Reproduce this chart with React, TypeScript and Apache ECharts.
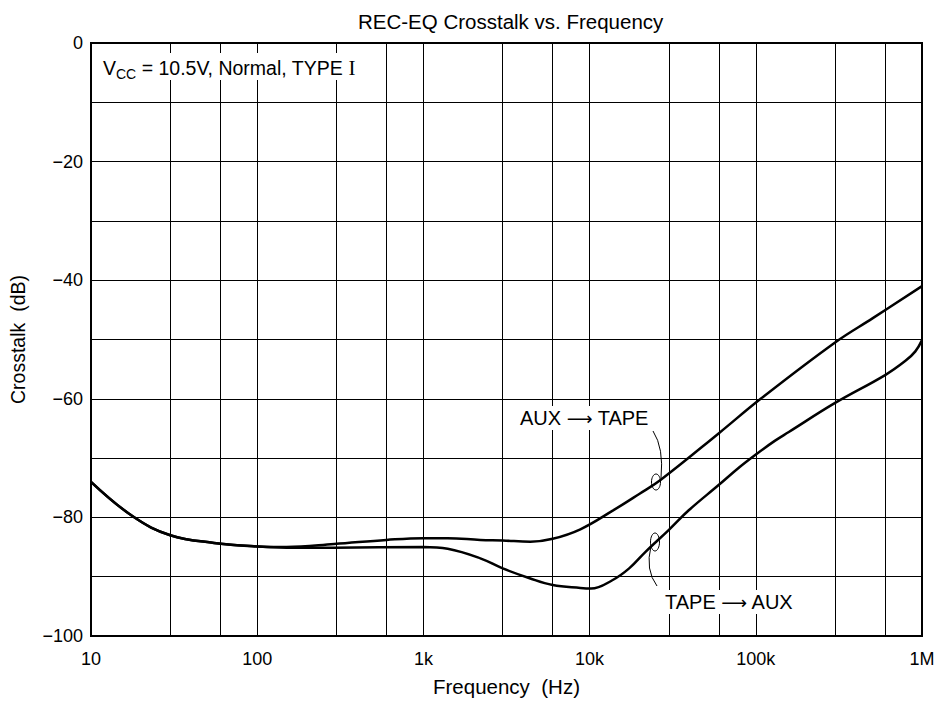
import React, { useEffect, useRef } from "react";
import * as echarts from "echarts";

const freqAux = [10, 18, 30, 55, 100, 150, 290, 600, 1000, 1400, 2200, 3000, 4400, 6000, 8800, 13700, 20000, 26700, 60000, 107000, 300000, 506000, 1000000];
const aux = [-74, -79.9, -83, -84.3, -84.9, -85.0, -84.5, -83.8, -83.5, -83.5, -83.8, -83.9, -84.1, -83.6, -82.0, -78.9, -76.0, -73.7, -65.8, -60.0, -50.5, -46.4, -41];

const freqTape = [10, 18, 30, 55, 100, 150, 290, 1000, 1400, 2200, 3000, 4400, 6000, 8800, 10200, 13700, 17300, 21700, 30000, 39500, 60000, 80000, 100000, 130000, 158000, 300000, 600000, 795000, 912000, 1000000];
const tape = [-74, -79.9, -83, -84.3, -84.9, -85.1, -85.1, -85.0, -85.3, -86.9, -88.6, -90.3, -91.4, -91.9, -92.0, -90.6, -88.6, -85.8, -82.1, -78.8, -74.5, -71.5, -69.4, -67.1, -65.6, -60.7, -56.0, -53.6, -52.0, -50.1];

const gridFreqs = [30, 60, 100, 300, 600, 1000, 3000, 6000, 10000, 30000, 60000, 100000, 300000, 600000];
const xTickLabels: Record<string, string> = { "10": "10", "100": "100", "1000": "1k", "10000": "10k", "100000": "100k", "1000000": "1M" };

const FONT = "'Liberation Sans', Arial, Helvetica, sans-serif";
const ARROWFONT = "'DejaVu Sans', sans-serif";

export default function App() {
  const ref = useRef<HTMLDivElement>(null);
  useEffect(() => {
    const chart = echarts.init(ref.current!, null, { renderer: "svg" });
    const annRich = {
      t: { fontFamily: FONT, fontSize: 20, color: "#000", lineHeight: 24 },
      a: { fontFamily: ARROWFONT, fontSize: 18, color: "#000", lineHeight: 24 },
    };
    chart.setOption({
      animation: false,
      backgroundColor: "#fff",
      title: {
        text: "REC-EQ Crosstalk vs. Frequency",
        left: 353,
        top: 6,
        textStyle: { fontFamily: FONT, fontSize: 20.5, fontWeight: "normal", color: "#000" },
      },
      grid: { left: 90, right: 23, top: 43, bottom: 67, show: true, borderColor: "#000", borderWidth: 2, backgroundColor: "transparent" },
      xAxis: {
        type: "log",
        logBase: 10,
        min: 10,
        max: 1000000,
        name: "Frequency  (Hz)",
        nameLocation: "middle",
        nameGap: 40,
        nameTextStyle: { fontFamily: FONT, fontSize: 20.5, color: "#000" },
        axisLine: { show: false },
        axisTick: { show: false },
        splitLine: { show: false },
        minorSplitLine: { show: false },
        axisLabel: {
          margin: 14,
          fontFamily: FONT,
          fontSize: 18,
          color: "#000",
          formatter: (v: number) => xTickLabels[String(Math.round(v))] ?? "",
        },
      },
      yAxis: {
        type: "value",
        min: -100,
        max: 0,
        interval: 10,
        name: "Crosstalk  (dB)",
        nameLocation: "middle",
        nameGap: 63,
        nameTextStyle: { fontFamily: FONT, fontSize: 19.5, color: "#000" },
        axisLine: { show: false },
        axisTick: { show: false },
        splitLine: { show: true, lineStyle: { color: "#000", width: 1 } },
        axisLabel: {
          margin: 8,
          fontFamily: FONT,
          fontSize: 18,
          color: "#000",
          formatter: (v: number) => (v % 20 === 0 ? (v < 0 ? "\u2212" + Math.abs(v) : "0") : ""),
        },
      },
      series: [
        {
          name: "AUX → TAPE",
          type: "line",
          data: freqAux.map((f, i) => [f, aux[i]]),
          smooth: 0.4,
          showSymbol: false,
          lineStyle: { color: "#000", width: 2.5 },
          markLine: {
            silent: true,
            symbol: "none",
            label: { show: false },
            lineStyle: { color: "#000", width: 1, type: "solid" },
            data: gridFreqs.map((f) => ({ xAxis: f })),
            z: 1,
          },
          z: 3,
        },
        {
          name: "TAPE → AUX",
          type: "line",
          data: freqTape.map((f, i) => [f, tape[i]]),
          smooth: 0.4,
          showSymbol: false,
          lineStyle: { color: "#000", width: 2.5 },
          z: 3,
        },
      ],
      graphic: [
        { type: "rect", z: 50, shape: { x: 95, y: 53, width: 270, height: 27 }, style: { fill: "#fff" } },
        {
          type: "text",
          z: 51,
          x: 103,
          y: 68,
          style: {
            text: "{v|V}{s|CC}{v| = 10.5V, Normal, TYPE }{r|I}",
            verticalAlign: "middle",
            rich: {
              v: { fontFamily: FONT, fontSize: 19.5, color: "#000", lineHeight: 26, verticalAlign: "middle" },
              s: { fontFamily: FONT, fontSize: 14, color: "#000", lineHeight: 26, verticalAlign: "bottom" },
              r: { fontFamily: "'Liberation Serif', 'DejaVu Serif', serif", fontSize: 21, color: "#000", lineHeight: 26, verticalAlign: "middle" },
            },
          },
        },
        {
          type: "text",
          z: 51,
          x: 517,
          y: 418,
          style: {
            text: "{t|AUX }{a|\u27F6}{t| TAPE}",
            verticalAlign: "middle",
            rich: annRich,
            backgroundColor: "#fff",
            padding: [0, 3, 0, 3],
          },
        },
        {
          type: "text",
          z: 51,
          x: 662,
          y: 602,
          style: {
            text: "{t|TAPE }{a|\u27F6}{t| AUX}",
            verticalAlign: "middle",
            rich: annRich,
            backgroundColor: "#fff",
            padding: [0, 3, 0, 3],
          },
        },
        {
          type: "bezierCurve",
          z: 52,
          shape: { x1: 653, y1: 431, x2: 661, y2: 478, cpx1: 664, cpy1: 448 },
          style: { stroke: "#000", lineWidth: 1, fill: "none" },
        },
        {
          type: "ellipse",
          z: 52,
          shape: { cx: 656, cy: 482, rx: 4.5, ry: 8 },
          style: { stroke: "#000", lineWidth: 1, fill: "none" },
        },
        {
          type: "ellipse",
          z: 52,
          shape: { cx: 655, cy: 542, rx: 4.5, ry: 9 },
          style: { stroke: "#000", lineWidth: 1, fill: "none" },
        },
        {
          type: "bezierCurve",
          z: 52,
          shape: { x1: 651, y1: 546, x2: 657, y2: 586, cpx1: 645, cpy1: 570 },
          style: { stroke: "#000", lineWidth: 1, fill: "none" },
        },
      ],
    });
    return () => chart.dispose();
  }, []);
  return <div ref={ref} style={{ width: 945, height: 703, position: "absolute", left: 0, top: 0 }} />;
}
